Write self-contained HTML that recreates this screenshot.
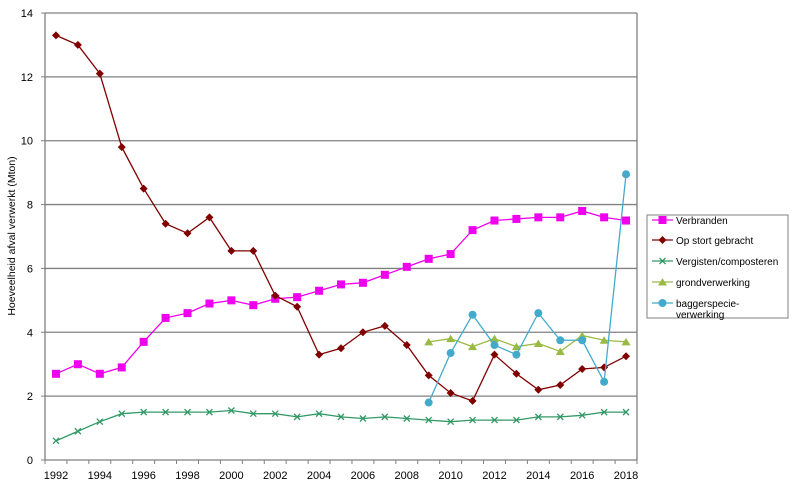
<!DOCTYPE html>
<html><head><meta charset="utf-8"><style>
body{margin:0;background:#fff;}
svg{display:block;font-family:"Liberation Sans",Verdana,sans-serif;}
</style></head><body>
<svg id="chart" width="800" height="491"></svg>
<script>
const years=[];for(let y=1992;y<=2018;y++)years.push(y);
const verbranden=[2.7,3.0,2.7,2.9,3.7,4.45,4.6,4.9,5.0,4.85,5.05,5.1,5.3,5.5,5.55,5.8,6.05,6.3,6.45,7.2,7.5,7.55,7.6,7.6,7.8,7.6,7.5];
const stort=[13.3,13.0,12.1,9.8,8.5,7.4,7.1,7.6,6.55,6.55,5.15,4.8,3.3,3.5,4.0,4.2,3.6,2.65,2.1,1.85,3.3,2.7,2.2,2.35,2.85,2.9,3.25];
const vergisten=[0.6,0.9,1.2,1.45,1.5,1.5,1.5,1.5,1.55,1.45,1.45,1.35,1.45,1.35,1.3,1.35,1.3,1.25,1.2,1.25,1.25,1.25,1.35,1.35,1.4,1.5,1.5];
const grond=[null,null,null,null,null,null,null,null,null,null,null,null,null,null,null,null,null,3.7,3.8,3.55,3.8,3.55,3.65,3.4,3.9,3.75,3.7];
const bagger=[null,null,null,null,null,null,null,null,null,null,null,null,null,null,null,null,null,1.8,3.35,4.55,3.6,3.3,4.6,3.75,3.75,2.45,8.95];
const yTicks=[0,2,4,6,8,10,12,14];
const xLabels=[1992,1994,1996,1998,2000,2002,2004,2006,2008,2010,2012,2014,2016,2018];

const svg=document.getElementById('chart');const NS='http://www.w3.org/2000/svg';
const L=45,R=637,T=13,B=460,yMax=14,n=years.length,step=(R-L)/n;
const xs=i=>L+step*(i+0.5);
const ys=v=>B-(v/yMax)*(B-T);
function mk(tag,attrs,parent){const e=document.createElementNS(NS,tag);for(const k in attrs)e.setAttribute(k,attrs[k]);(parent||svg).appendChild(e);return e;}
yTicks.forEach(t=>{
  if(t>0){const g=mk('line',{x1:L,x2:R,y1:ys(t),y2:ys(t),stroke:'#808080','stroke-width':1.3});
  
  }
  mk('line',{x1:L-4,x2:L,y1:ys(t),y2:ys(t),stroke:'#808080'});
  const tx=mk('text',{x:L-12,y:ys(t)+4,'text-anchor':'end','font-size':11,fill:'#000'});tx.textContent=t;
  
  
});
mk('line',{x1:L,x2:L,y1:T,y2:B,stroke:'#808080','stroke-width':1.3});
mk('line',{x1:L,x2:R,y1:B,y2:B,stroke:'#808080','stroke-width':1.3});
mk('line',{x1:R,x2:R,y1:T,y2:B,stroke:'#808080','stroke-width':1.3});
for(let i=0;i<=n;i++)mk('line',{x1:L+step*i,x2:L+step*i,y1:B,y2:B+4,stroke:'#808080'});
xLabels.forEach(y=>{const i=years.indexOf(y);const tx=mk('text',{x:xs(i),y:479,'text-anchor':'middle','font-size':11});tx.textContent=y;
  
  });
const yt=mk('text',{x:0,y:0,transform:'translate(15,236) rotate(-90)','text-anchor':'middle','font-size':10.5});
yt.textContent='Hoeveelheid afval verwerkt (Mton)';



function marker(type,x,y,c,p){
  if(type==='sq')mk('rect',{x:x-4,y:y-4,width:8,height:8,fill:c},p);
  else if(type==='dia')mk('polygon',{points:`${x},${y-4} ${x+4},${y} ${x},${y+4} ${x-4},${y}`,fill:c},p);
  else if(type==='x'){mk('path',{d:`M${x-3},${y-3}L${x+3},${y+3}M${x+3},${y-3}L${x-3},${y+3}`,stroke:c,'stroke-width':1.3},p);}
  else if(type==='tri')mk('polygon',{points:`${x},${y-4} ${x+4.5},${y+3.5} ${x-4.5},${y+3.5}`,fill:c},p);
  else mk('circle',{cx:x,cy:y,r:4,fill:c},p);
}
const series=[
 {name:'Verbranden',data:verbranden,c:'#ee00ee',m:'sq',id:'verbranden'},
 {name:'Op stort gebracht',data:stort,c:'#800000',m:'dia',id:'op-stort'},
 {name:'Vergisten/composteren',data:vergisten,c:'#339966',m:'x',id:'vergisten'},
 {name:'grondverwerking',data:grond,c:'#99bb44',m:'tri',id:'grondverwerking'},
 {name:'baggerspecie-verwerking',data:bagger,c:'#44aacc',m:'dot',id:'baggerspecie'}];
series.forEach(s=>{
  const g=mk('g',{});
  
  
  const pts=[];s.data.forEach((v,i)=>{if(v!==null)pts.push([xs(i),ys(v)]);});
  mk('polyline',{points:pts.map(p=>p.join(',')).join(' '),fill:'none',stroke:s.c,'stroke-width':1.3},g);
  pts.forEach(p=>marker(s.m,p[0],p[1],s.c,g));
});
// legend
const lg=mk('g',{});


mk('rect',{x:647,y:215,width:141,height:103,fill:'#fff',stroke:'#808080'},lg);
const ly=[220,240,261,282,303];
series.forEach((s,k)=>{
  const y=ly[k];
  const e=mk('g',{},lg);
  
  
  mk('line',{x1:652,x2:673,y1:y,y2:y,stroke:s.c,'stroke-width':1.3},e);
  marker(s.m,662.5,y,s.c,e);
  if(k===4){
    const t1=mk('text',{x:676,y:y+4,'font-size':10},e);t1.textContent='baggerspecie-';
    const t2=mk('text',{x:676,y:y+15,'font-size':10},e);t2.textContent='verwerking';
  } else {const t=mk('text',{x:676,y:y+4,'font-size':10},e);t.textContent=s.name;}
});
</script>
</body></html>
